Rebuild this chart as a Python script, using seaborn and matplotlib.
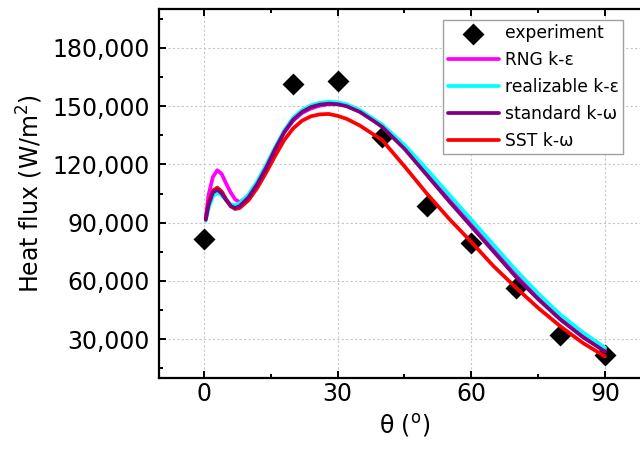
import numpy as np
import pandas as pd
import matplotlib
matplotlib.use("Agg")
import matplotlib.pyplot as plt
import seaborn as sns
from matplotlib.ticker import MultipleLocator, FuncFormatter

# ---------------- data ----------------
exp_theta = [0, 20, 30, 40, 50, 60, 70, 80, 90]
exp_flux = [81700, 161500, 163000, 134000, 98800, 79700, 56400, 32100, 21500]

theta = [0.4, 1, 2, 3, 4, 5, 6, 7, 8, 10, 12, 14, 16, 18, 20, 22, 24, 26, 28,
         30, 32, 35, 38, 40, 45, 50, 55, 60, 65, 70, 75, 80, 85, 90]

rng_ke = [92000, 104000, 113500, 117000, 115000, 110000, 105500, 102000, 100500,
          103500, 110500, 119000, 128000, 136500, 142500, 146500, 148800, 150300,
          151000, 151000, 150300, 147500, 143000, 140000, 129000, 116000, 103000,
          90000, 77000, 64000, 52000, 41000, 32000, 24500]
real_ke = [91000, 97000, 103500, 105500, 104000, 101500, 99500, 99000, 100000,
           104500, 111500, 120000, 129000, 137500, 144000, 148000, 150500, 151800,
           152300, 152000, 151000, 148000, 143500, 140500, 130000, 117500, 104500,
           91500, 78500, 65500, 53500, 42500, 33500, 25500]
std_kw = [91500, 99000, 105500, 107000, 105000, 101500, 98500, 97500, 98500,
          103000, 110000, 118500, 128000, 136500, 143000, 147000, 149500, 150800,
          151300, 151000, 150000, 147000, 142500, 139300, 128000, 114500, 101000,
          88000, 75000, 62000, 50500, 40000, 31000, 23500]
sst_kw = [92000, 100000, 106500, 108000, 106000, 102000, 98500, 97000, 97500,
          101500, 108000, 116000, 124500, 132500, 138500, 142500, 144800, 145800,
          146000, 145000, 143500, 140000, 135500, 132500, 119000, 105000, 92000,
          80000, 67500, 56500, 46000, 36500, 28000, 21000]

labels = ["RNG k-ε", "realizable k-ε", "standard k-ω", "SST k-ω"]
colors = ["#ff00ff", "#00ffff", "#800080", "#ff0000"]
series = [rng_ke, real_ke, std_kw, sst_kw]

# ---------------- style ----------------
sns.set_style("ticks")
plt.rcParams["font.family"] = ["DejaVu Sans"]
plt.rcParams["mathtext.default"] = "regular"
plt.rcParams["text.color"] = "black"
plt.rcParams["axes.labelcolor"] = "black"
plt.rcParams["xtick.color"] = "black"
plt.rcParams["ytick.color"] = "black"

fig = plt.figure(figsize=(6.4, 4.54), dpi=100)
ax = fig.add_axes([159.4 / 640, (454 - 377.8) / 454, 490.2 / 640, 368.6 / 454])

exp_df = pd.DataFrame({"theta": exp_theta, "flux": exp_flux})
sns.scatterplot(data=exp_df, x="theta", y="flux", marker="D", s=125,
                color="black", linewidth=0, ax=ax, zorder=2, label="experiment")

draw_order = [0, 1, 3, 2]
for i in draw_order:
    df = pd.DataFrame({"theta": theta, "flux": series[i]})
    sns.lineplot(data=df, x="theta", y="flux", color=colors[i], linewidth=2.7,
                 ax=ax, zorder=3, label=labels[i], sort=False)

ax.set_xlim(-10, 100)
ax.set_ylim(10000, 200000)
ax.xaxis.set_major_locator(MultipleLocator(30))
ax.xaxis.set_minor_locator(MultipleLocator(15))
ax.yaxis.set_major_locator(MultipleLocator(30000))
ax.yaxis.set_minor_locator(MultipleLocator(15000))
ax.yaxis.set_major_formatter(FuncFormatter(lambda v, p: f"{int(v):,}"))

ax.grid(True, which="major", color="#c8c8c8", linestyle=(0, (2, 2)), linewidth=0.8)
ax.set_axisbelow(True)

for s in ax.spines.values():
    s.set_linewidth(1.6)
    s.set_color("black")
ax.tick_params(which="both", direction="in", top=True, right=False, width=1.4,
               colors="black")
ax.tick_params(which="major", length=5)
ax.tick_params(which="minor", length=3)
ax.tick_params(axis="y", which="major", labelsize=17, pad=7)
ax.tick_params(axis="x", which="major", labelsize=17, pad=3)

ax.set_xlabel("θ ($^{o}$)", fontsize=17, labelpad=4)
ax.set_ylabel("Heat flux (W/m$^{2}$)", fontsize=17, labelpad=5)

h, l = ax.get_legend_handles_labels()
hd = dict(zip(l, h))
order = ["experiment"] + labels
leg = ax.legend([hd[k] for k in order], order, loc="upper right",
                bbox_to_anchor=(0.946, 0.971), borderaxespad=0, fontsize=12.3,
                frameon=True, fancybox=False, edgecolor="#a0a0a0", framealpha=1,
                handlelength=3.0, handletextpad=0.35, labelspacing=0.52,
                borderpad=0.25, scatterpoints=1)
leg.get_frame().set_linewidth(1.0)
for t in leg.get_texts():
    t.set_color("black")
for lh in leg.get_lines():
    lh.set_linewidth(2.7)

fig.savefig("out.png", dpi=100)
